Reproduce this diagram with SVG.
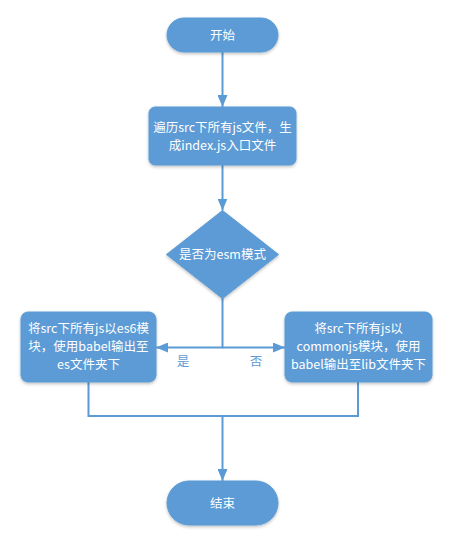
<svg xmlns="http://www.w3.org/2000/svg" width="470" height="551" viewBox="0 0 470 551">
<defs>
<filter id="sh" x="-20%" y="-20%" width="140%" height="150%">
<feDropShadow dx="0" dy="1.5" stdDeviation="1.5" flood-color="#000" flood-opacity="0.25"/>
</filter>
<marker id="arr" markerWidth="10" markerHeight="10" viewBox="0 0 10 10" refX="10" refY="5" orient="auto" markerUnits="userSpaceOnUse">
<path d="M0,0 L10,5 L0,10 Z" fill="#5b9bd5"/>
</marker>
<marker id="arrB" markerWidth="12" markerHeight="10" viewBox="0 0 12 10" refX="12" refY="5" orient="auto" markerUnits="userSpaceOnUse">
<path d="M0,0 L12,5 L0,10 Z" fill="#5b9bd5"/>
</marker>
</defs>
<style>
.shape{fill:#5b9bd5;stroke:#5b9bd5;stroke-width:1;filter:url(#sh)}
.t{font-family:"Microsoft YaHei","Noto Sans CJK SC","Noto Sans",sans-serif;font-size:12.5px;fill:#ffffff;text-anchor:middle}
.lbl{font-family:"Microsoft YaHei","Noto Sans CJK SC","Noto Sans",sans-serif;font-size:12.5px;fill:#5b9bd5;text-anchor:middle}
.c{fill:none;stroke:#5b9bd5;stroke-width:2}
</style>
<rect width="470" height="551" fill="#ffffff"/>
<g id="connectors">
<path class="c" d="M222.5,52 V107" marker-end="url(#arrB)"/>
<path class="c" d="M222.5,165 V210.5" marker-end="url(#arrB)"/>
<path class="c" d="M222.5,298 V347.5 H156" marker-end="url(#arrB)"/>
<path class="c" d="M222.5,347.5 H285" marker-end="url(#arrB)"/>
<path class="c" d="M88.5,382 V416 H358 V382"/>
<path class="c" d="M222.5,416 V481" marker-end="url(#arrB)"/>
<text class="lbl" x="183" y="366">是</text>
<text class="lbl" x="256" y="366">否</text>
</g>
<g id="start">
<rect class="shape" x="167" y="18" width="111" height="34" rx="17"/>
<text class="t" x="222.5" y="39.5">开始</text>
</g>
<g id="scan">
<rect class="shape" x="149" y="107" width="147" height="58" rx="6"/>
<text class="t" x="222.5" y="132">遍历src下所有js文件，生</text>
<text class="t" x="222.5" y="150">成index.js入口文件</text>
</g>
<g id="decision">
<polygon class="shape" points="222.5,210.5 278.5,254.5 222.5,298.5 166.5,254.5"/>
<text class="t" x="222.5" y="259">是否为esm模式</text>
</g>
<g id="es">
<rect class="shape" x="21" y="312" width="135" height="70" rx="7"/>
<text class="t" x="88.5" y="333">将src下所有js以es6模</text>
<text class="t" x="88.5" y="351">块，使用babel输出至</text>
<text class="t" x="88.5" y="369">es文件夹下</text>
</g>
<g id="lib">
<rect class="shape" x="285" y="312" width="147" height="70" rx="7"/>
<text class="t" x="358.5" y="333">将src下所有js以</text>
<text class="t" x="358.5" y="351">commonjs模块，使用</text>
<text class="t" x="358.5" y="369">babel输出至lib文件夹下</text>
</g>
<g id="end">
<rect class="shape" x="167" y="481" width="111" height="44" rx="22"/>
<text class="t" x="222.5" y="507.5">结束</text>
</g>
</svg>
